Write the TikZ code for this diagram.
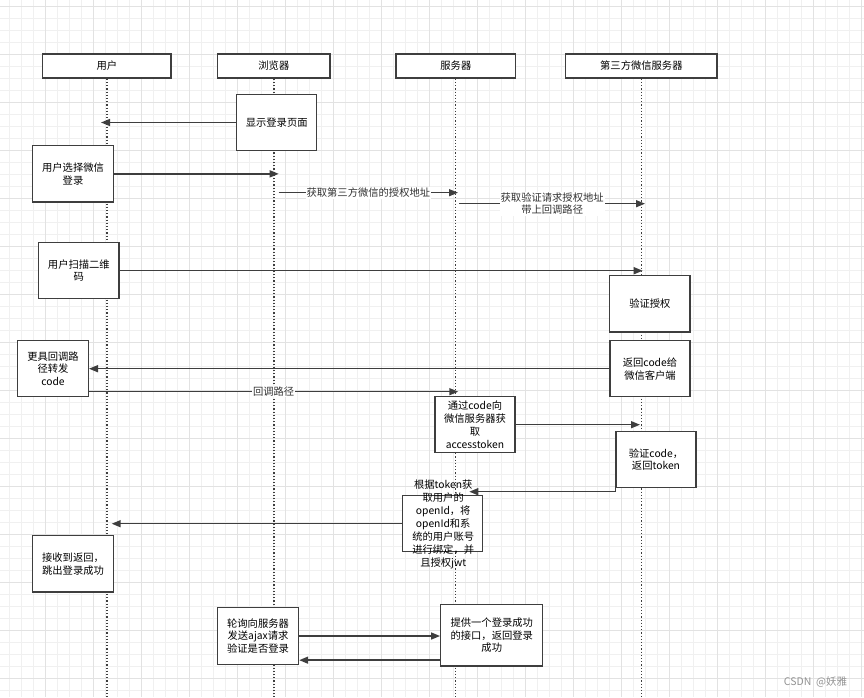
\documentclass[tikz,border=0pt]{standalone}
\usepackage{fontspec}
\setmainfont{Noto Sans CJK SC}
\usetikzlibrary{arrows.meta,calc}
\definecolor{ink}{RGB}{62,62,62}
\definecolor{gridminor}{RGB}{240,240,240}
\definecolor{gridmajor}{RGB}{226,226,226}
\tikzset{
  box/.style={draw=ink,line width=1.4pt,fill=white,align=center,inner sep=1pt,
    font=\fontsize{10.3}{12.9}\selectfont},
  hdr/.style={box,minimum height=24pt},
  life/.style={draw=ink,line width=1.2pt,dotted},
  arr/.style={draw=ink,line width=1.5pt,-{Triangle[length=9pt,width=7pt]}},
  lbl/.style={fill=white,inner sep=1pt,align=center,font=\fontsize{10.3}{12.4}\selectfont,text=ink!80!black},
}
\begin{document}
\begin{tikzpicture}[x=1pt,y=-1pt]
\useasboundingbox (0,0) rectangle (864,697);
\fill[white] (0,0) rectangle (864,697);
% grid
\foreach \i in {0,...,71} {\draw[gridminor,line width=1pt] ({9.3+12*\i},0) -- ({9.3+12*\i},697);}
\foreach \i in {0,...,57} {\draw[gridminor,line width=1pt] (0,{6.3+12*\i}) -- (864,{6.3+12*\i});}
\foreach \i in {0,...,17} {\draw[gridmajor,line width=1pt] ({45.3+48*\i},0) -- ({45.3+48*\i},697);}
\foreach \i in {0,...,14} {\draw[gridmajor,line width=1pt] (0,{6.3+48*\i}) -- (864,{6.3+48*\i});}

% headers
\node[hdr,minimum width=128.3pt] (hUser) at (106.85,66) {用户};
\node[hdr,minimum width=112.3pt] (hBrowser) at (273.85,66) {浏览器};
\node[hdr,minimum width=119.7pt] (hServer) at (455.85,66) {服务器};
\node[hdr,minimum width=151.3pt] (hWx) at (641.35,66) {第三方微信服务器};

% lifelines
\coordinate (eUser) at (107,697);
\coordinate (eBrowser) at (274,697);
\coordinate (eServer) at (455.7,697);
\coordinate (eWx) at (641.7,697);
\draw[life] (hUser.south -| eUser) -- (eUser);
\draw[life] (hBrowser.south -| eBrowser) -- (eBrowser);
\draw[life] (hServer.south -| eServer) -- (eServer);
\draw[life] (hWx.south -| eWx) -- (eWx);

% activation boxes
\node[box,minimum width=80pt,minimum height=56.4pt] (show) at (276.7,122.5) {显示登录页面};
\node[box,minimum width=80.6pt,minimum height=56.3pt] (choose) at (73,173.85) {用户选择微信\\登录};
\node[box,minimum width=80.3pt,minimum height=56.4pt] (scan) at (78.85,270.5) {用户扫描二维\\码};
\node[box,minimum width=80.3pt,minimum height=56.3pt] (verify) at (649.85,303.85) {验证授权};
\node[box,minimum width=70.6pt,minimum height=56pt] (fwd) at (53,368.7) {更具回调路\\径转发\\code};
\node[box,minimum width=80pt,minimum height=56pt] (retcode) at (650,368.7) {返回code给\\微信客户端};
\node[box,minimum width=80pt,minimum height=56pt,inner sep=0pt] (getat) at (475,424.7) {通过code向\\微信服务器获\\取\\accesstoken};
\node[box,minimum width=80pt,minimum height=55.6pt] (vcode) at (656,459.5) {验证code，\\返回token};
\node[box,minimum width=80pt,minimum height=56pt] (bind) at (442.7,523.7) {};
\node[align=center,inner sep=0pt,font=\fontsize{10.3}{12.93}\selectfont] (bindtxt) at (443.2,524.5) {根据token获\\取用户的\\openId，将\\openId和系\\统的用户账号\\进行绑定，并\\且授权jwt};
\node[box,minimum width=80.6pt,minimum height=56.3pt] (recv) at (73,563.85) {接收到返回，\\跳出登录成功};
\node[box,minimum width=81pt,minimum height=56.6pt] (poll) at (258,636) {轮询向服务器\\发送ajax请求\\验证是否登录};
\node[box,minimum width=102pt,minimum height=61.7pt] (provide) at (491.75,635.15) {提供一个登录成功\\的接口，返回登录\\成功};

% message tips / free ends
\coordinate (t1) at (101,122.5);
\coordinate (t2) at (278.7,173.85);
\coordinate (s3) at (278.7,192.7);
\coordinate (t3) at (458,192.7);
\coordinate (s4) at (459.3,203.7);
\coordinate (t4) at (645,203.7);
\coordinate (t5) at (642.7,270.7);
\coordinate (t7) at (458.3,391.7);
\coordinate (t8) at (640,424.7);
\coordinate (t9) at (469.3,491.7);
\coordinate (t10) at (111.7,523.7);

% messages
\draw[arr] (show.west) -- (t1);
\draw[arr] (choose.east) -- (t2);
\draw[arr] (s3) -- node[lbl] {获取第三方微信的授权地址} (t3);
\draw[arr] (s4) -- node[lbl] {获取验证请求授权地址\\带上回调路径} (t4);
\draw[arr] (scan.east |- t5) -- (t5);
\draw[arr] (retcode.west) -- (fwd.east);
\draw[arr] (fwd.east |- t7) -- node[lbl] {回调路径} (t7);
\draw[arr] (getat.east) -- (t8);
\draw[arr] (vcode.south west) |- (t9);
\draw[arr] (bind.west) -- (t10);
\draw[arr] (poll.east) -- (poll.east -| provide.west);
\draw[arr] ([yshift=-25pt]provide.west) -- ([yshift=-25pt]provide.west -| poll.east);

% watermark
\node[text=gray!85,font=\fontsize{10.5}{12}\selectfont,inner sep=0pt] (wm) at (815.5,681.7) {CSDN\ \ @妖雅};
\end{tikzpicture}
\end{document}
